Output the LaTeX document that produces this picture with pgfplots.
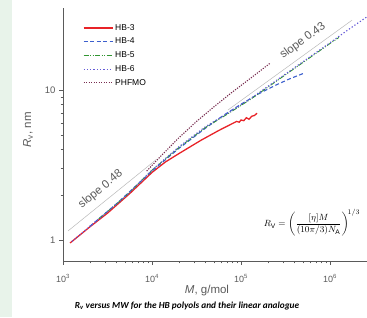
\documentclass[border=0pt]{standalone}
\usepackage{fontspec}
\setmainfont{Liberation Sans}
\newfontfamily\capfont{Carlito}
\usepackage{pgfplots}
\pgfplotsset{compat=1.18}
\definecolor{bgstrip}{RGB}{232,243,234}
\definecolor{hbred}{RGB}{232,35,40}
\definecolor{hbblue}{RGB}{60,95,205}
\definecolor{hbgreen}{RGB}{50,150,50}
\definecolor{hbpurple}{RGB}{100,90,215}
\definecolor{phfmo}{RGB}{120,45,80}
\definecolor{axgray}{RGB}{90,90,90}
\begin{document}
\begin{tikzpicture}[x=1pt,y=1pt]
\fill[bgstrip] (0,0) rectangle (12,317);
\path[use as bounding box] (0,0) rectangle (367,317);
\begin{axis}[
  at={(63pt,56pt)}, anchor=south west,
  scale only axis, width=304pt, height=253pt,
  xmode=log, ymode=log,
  xmin=1000, xmax=2.6e6, ymin=0.724, ymax=35.2,
  axis x line*=bottom, axis y line*=left,
  axis line style={axgray,-, line width=0.8pt},
  every tick/.style={axgray, line width=0.6pt},
  major tick length=4pt, minor tick length=2.5pt,
  tick align=outside,
  xtick={1000,10000,100000,1000000},
  xticklabels={10\textsuperscript{3},10\textsuperscript{4},10\textsuperscript{5},10\textsuperscript{6}},
  xticklabel style={yshift=-6pt},
  ytick={1,10}, yticklabels={1,10},
  yticklabel style={font=\fontsize{9.5}{10}\selectfont},
  tick label style={font=\fontsize{9}{10}\selectfont, text=axgray},
  legend style={at={(axis description cs:0.055,0.952)}, anchor=north west, draw=none, fill=none,
     font=\fontsize{8.5}{10}\selectfont, row sep=2.3pt},
  legend cell align=left,
  legend image code/.code={\draw[#1] (0pt,0pt) -- (29pt,0pt);},
]
\addplot[hbred, line width=1.3pt] coordinates {
(1202,0.955) (1995,1.22) (3162,1.51) (5623,2.04) (10000,2.82) (14125,3.31) (19953,3.76)
(35481,4.62) (56234,5.37) (79433,5.96) (89125,6.17) (95499,6.10) (100000,6.31) (107152,6.24)
(114815,6.53) (123027,6.38) (131826,6.68) (141254,6.76) (151356,7.00)};
\addlegendentry{HB-3}
\addplot[hbblue, line width=1.1pt, dash pattern=on 4pt off 2.5pt] coordinates {
(1995,1.23) (3981,1.74) (10000,2.88) (19953,4.07) (39811,5.56) (63096,6.76) (100000,8.04)
(158489,9.44) (251189,10.84) (354813,11.89) (524807,13.03)};
\addlegendentry{HB-4}
\addplot[hbgreen, line width=0.9pt, dash pattern=on 5pt off 1.5pt on 1pt off 1.5pt on 1pt off 1.5pt] coordinates {
(2512,1.38) (5012,1.95) (10000,2.92) (19953,4.12) (39811,5.62) (70795,6.92) (125893,8.61)
(251189,11.48) (501187,15.31) (1000000,20.42) (1258925,22.39)};
\addlegendentry{HB-5}
\addplot[hbpurple, line width=1.1pt, dash pattern=on 1.3pt off 2pt] coordinates {
(1259,0.977) (2512,1.38) (5012,1.95) (10000,2.92) (19953,4.17) (39811,5.69) (70795,7.0)
(125893,8.71) (251189,11.61) (501187,15.49) (1000000,20.65) (1584893,25.12) (2630268,30.9)};
\addlegendentry{HB-6}
\addplot[phfmo, line width=1.1pt, dash pattern=on 1.2pt off 1.3pt] coordinates {
(8710,2.88) (12589,3.63) (19953,4.79) (31623,6.17) (50119,7.76) (79433,9.66) (125893,11.89) (213796,15.14)};
\addlegendentry{PHFMO}
\addplot[gray!55, line width=0.5pt, forget plot] coordinates {(1138,1.148) (11376,3.467)}
  node[pos=0.45, sloped, above=3pt, font=\fontsize{11.5}{13}\selectfont, text=axgray] {slope 0.48};
\addplot[gray!55, line width=0.5pt, forget plot] coordinates {(71450,7.36) (1766000,29.2)}
  node[pos=0.66, sloped, above=3pt, font=\fontsize{11.5}{13}\selectfont, text=axgray] {slope 0.43};
\end{axis}
\node[rotate=90, font=\fontsize{11.5}{13}\selectfont, text=axgray] at (28,187) {\textit{R}\textsubscript{v}, nm};
\node[font=\fontsize{11.5}{13}\selectfont, text=axgray] at (207,26) {\textit{M}, g/mol};
\node[font=\fontsize{9.5}{11}\selectfont, inner sep=0pt] at (312,94) {$\displaystyle R_\mathrm{V} = \left(\frac{[\eta]M}{(10\pi/3)N_\mathrm{A}}\right)^{\!1/3}$};
\node[font=\capfont\bfseries\itshape\fontsize{9.3}{11}\selectfont] at (187,11) {R\textsubscript{v} versus MW for the HB polyols and their linear analogue};
\end{tikzpicture}
\end{document}
